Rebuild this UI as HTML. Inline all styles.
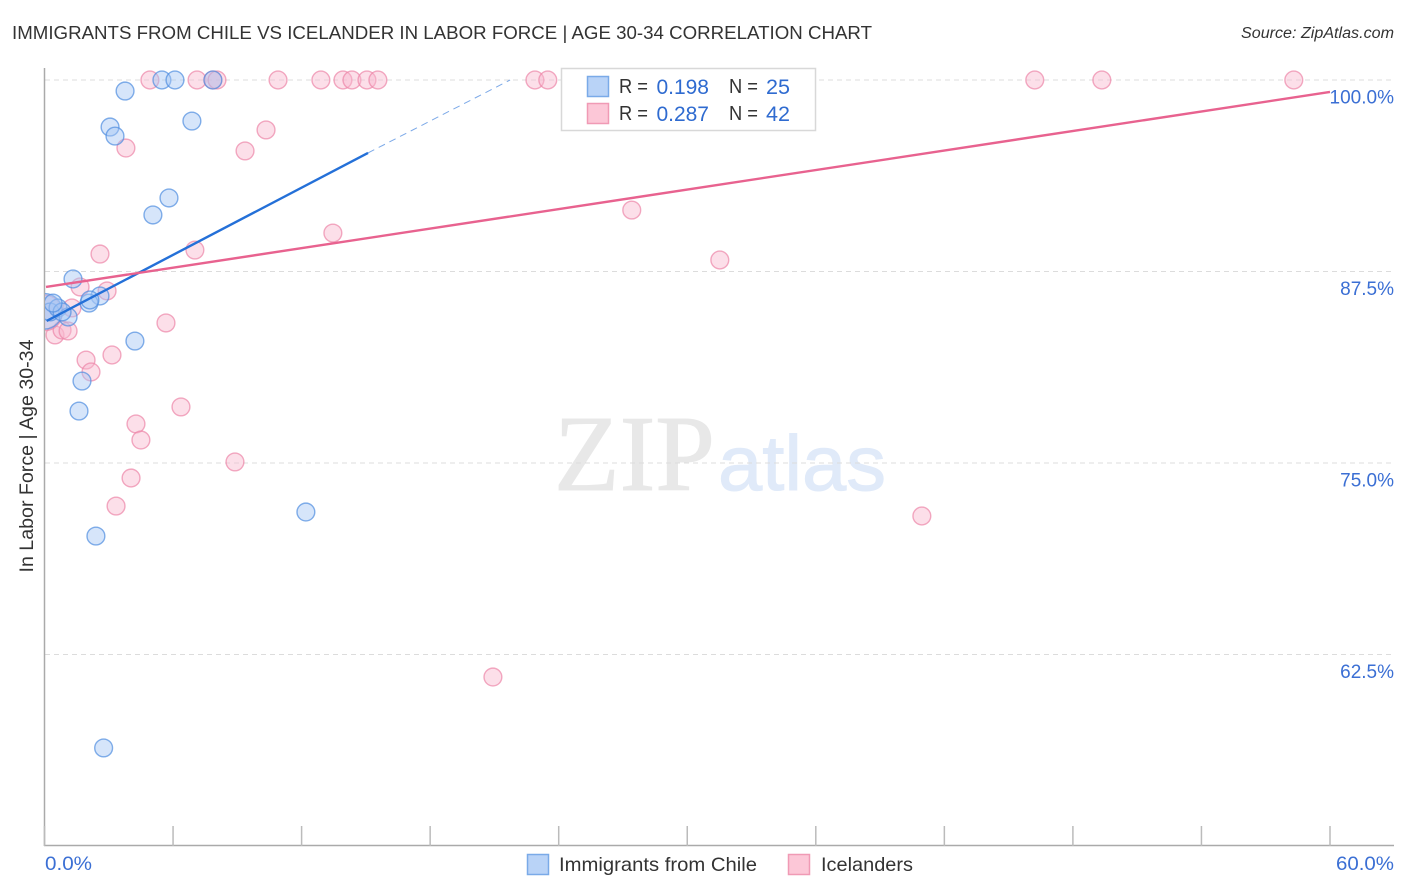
<!DOCTYPE html>
<html lang="en">
<head>
<meta charset="utf-8">
<title>Immigrants from Chile vs Icelander in Labor Force | Age 30-34 Correlation Chart</title>
<style>
html,body{margin:0;padding:0;background:#fff;}
svg{display:block;font-family:"Liberation Sans",sans-serif;}
.tick-label{fill:#3b6fd4;font-size:19px;}
.legend-label{fill:#333;font-size:20px;}
.legend-value{fill:#2f6bd0;font-size:21px;}
</style>
</head>
<body>
<svg id="chart" width="1406" height="892" viewBox="0 0 1406 892" xmlns="http://www.w3.org/2000/svg">
  <defs>
    <clipPath id="plot-clip"><rect x="45" y="60" width="1349" height="786"/></clipPath>
  </defs>
  <rect x="0" y="0" width="1406" height="892" fill="#fff"/>
  <text x="12" y="39" font-size="18.5" fill="#333" textLength="860" lengthAdjust="spacingAndGlyphs">IMMIGRANTS FROM CHILE VS ICELANDER IN LABOR FORCE | AGE 30-34 CORRELATION CHART</text>
  <text x="1394" y="38" font-size="15.5" font-style="italic" fill="#333" text-anchor="end" textLength="153" lengthAdjust="spacingAndGlyphs">Source: ZipAtlas.com</text>

  <g>
    <text x="554" y="490" font-family="'Liberation Serif',serif" font-size="108" fill="#e8e8e8" stroke="#e8e8e8" stroke-width="1" textLength="161" lengthAdjust="spacingAndGlyphs">ZIP</text>
    <text x="718" y="490" font-family="'Liberation Sans',sans-serif" font-size="78" fill="#e0eaf9" stroke="#e0eaf9" stroke-width="1" textLength="168" lengthAdjust="spacingAndGlyphs">atlas</text>
  </g>

  <g id="grid"></g>
  <g id="axes"></g>
  <g id="points" clip-path="url(#plot-clip)"></g>
  <g id="trends"></g>

  <text transform="translate(33,456) rotate(-90)" font-size="19" fill="#333" text-anchor="middle" textLength="233" lengthAdjust="spacingAndGlyphs">In Labor Force | Age 30-34</text>

  <g>
    <rect x="561.5" y="68.5" width="254" height="62" fill="#fff" stroke="#d8d8d8" stroke-width="1.5"/>
    <rect x="587.5" y="76.5" width="21" height="20" fill="#b9d3f7" stroke="#7aaae8" stroke-width="1.5"/>
    <text class="legend-label" x="619" y="93" textLength="29" lengthAdjust="spacingAndGlyphs">R =</text>
    <text class="legend-value" x="709" y="94" text-anchor="end">0.198</text>
    <text class="legend-label" x="729" y="93" textLength="29" lengthAdjust="spacingAndGlyphs">N =</text>
    <text class="legend-value" x="766" y="94" textLength="24" lengthAdjust="spacingAndGlyphs">25</text>
    <rect x="587.5" y="103.5" width="21" height="20" fill="#fcc7d7" stroke="#f09ab5" stroke-width="1.5"/>
    <text class="legend-label" x="619" y="120" textLength="29" lengthAdjust="spacingAndGlyphs">R =</text>
    <text class="legend-value" x="709" y="121" text-anchor="end">0.287</text>
    <text class="legend-label" x="729" y="120" textLength="29" lengthAdjust="spacingAndGlyphs">N =</text>
    <text class="legend-value" x="766" y="121" textLength="24" lengthAdjust="spacingAndGlyphs">42</text>
  </g>

  <g>
    <rect x="527.5" y="854.5" width="21" height="20" fill="#b9d3f7" stroke="#7aaae8" stroke-width="1.5"/>
    <text x="559" y="871" font-size="19.5" fill="#333" textLength="198" lengthAdjust="spacingAndGlyphs">Immigrants from Chile</text>
    <rect x="788.5" y="854.5" width="21" height="20" fill="#fcc7d7" stroke="#f09ab5" stroke-width="1.5"/>
    <text x="821" y="871" font-size="19.5" fill="#333" textLength="92" lengthAdjust="spacingAndGlyphs">Icelanders</text>
  </g>
</svg>
<script>
const yTickValues = [100, 87.5, 75, 62.5];
const yTickLabels = ["100.0%", "87.5%", "75.0%", "62.5%"];
const xTickValues = [0, 6, 12, 18, 24, 30, 36, 42, 48, 54, 60];
const xEndLabels = ["0.0%", "60.0%"];

const chileX = [3.76, 5.48, 6.09, 7.86, 3.06, 3.29, 6.88, 5.81, 5.06, 1.33, 2.59, 2.08, 4.22, 1.75, 1.61, 2.40, 2.76, 12.2, 0.0, 0.26, 0.63, 1.10, 0.82, 0.40, 2.12];
const chileY = [99.28, 100, 100, 100, 96.93, 96.34, 97.32, 92.30, 91.19, 87.01, 85.90, 85.44, 82.96, 80.35, 78.39, 70.23, 56.40, 71.80, 84.90, 84.86, 85.12, 84.53, 84.86, 85.44, 85.64];
const chileWeight = [1, 1, 1, 1, 1, 1, 1, 1, 1, 1, 1, 1, 1, 1, 1, 1, 1, 1, 2, 1, 1, 1, 1, 1, 1];

const icelandX = [4.92, 7.12, 7.86, 8.05, 10.9, 12.9, 13.93, 14.35, 15.05, 15.56, 22.89, 23.49, 46.22, 49.35, 58.31, 10.34, 3.80, 9.36, 27.41, 13.46, 2.59, 7.02, 31.52, 1.66, 2.92, 5.67, 0.49, 0.82, 1.10, 1.94, 3.15, 2.17, 6.37, 4.27, 4.50, 8.89, 4.04, 3.34, 40.95, 20.93, 0.0, 1.28];
const icelandY = [100, 100, 100, 100, 100, 100, 100, 100, 100, 100, 100, 100, 100, 100, 100, 96.74, 95.56, 95.37, 91.51, 90.01, 88.64, 88.90, 88.25, 86.49, 86.23, 84.14, 83.36, 83.68, 83.62, 81.72, 82.05, 80.94, 78.66, 77.55, 76.50, 75.07, 74.02, 72.19, 71.54, 61.03, 84.80, 85.12];
const icelandWeight = [1, 1, 1, 1, 1, 1, 1, 1, 1, 1, 1, 1, 1, 1, 1, 1, 1, 1, 1, 1, 1, 1, 1, 1, 1, 1, 1, 1, 1, 1, 1, 1, 1, 1, 1, 1, 1, 1, 1, 1, 2, 1];

const chileTrendX = [0.1, 15.1];
const chileTrendY = [84.27, 95.24];
const chileTrendExtX = [15.1, 21.73];
const chileTrendExtY = [95.24, 100];
const icelandTrendX = [0.07, 60];
const icelandTrendY = [86.49, 99.22];

const NS = "http://www.w3.org/2000/svg";
function sx(v) { return 44.5 + v * (1330 - 44.5) / 60; }
function sy(v) { return 80 + (100 - v) * (654.5 - 80) / 37.5; }
function make(tag, attrs, parent) {
  const el = document.createElementNS(NS, tag);
  for (const k in attrs) el.setAttribute(k, attrs[k]);
  parent.appendChild(el);
  return el;
}
const grid = document.getElementById("grid");
const axes = document.getElementById("axes");
const points = document.getElementById("points");
const trends = document.getElementById("trends");

yTickValues.forEach(function (v, i) {
  const line = make("line", { x1: 45, x2: 1394, y1: sy(v), y2: sy(v), stroke: "#dcdcdc", "stroke-width": 1, "stroke-dasharray": "5 4" }, grid);
  
  
  const label = make("text", { x: 1394, y: sy(v) + 23.5, "text-anchor": "end", class: "tick-label" }, axes);
  label.textContent = yTickLabels[i];
  
  
});

const yAxis = make("line", { x1: 44.5, x2: 44.5, y1: 68, y2: 846, stroke: "#aaa", "stroke-width": 1.5 }, axes);


const xAxis = make("line", { x1: 44, x2: 1394, y1: 845.5, y2: 845.5, stroke: "#aaa", "stroke-width": 1.5 }, axes);



xTickValues.forEach(function (v) {
  const t = make("line", { x1: sx(v), x2: sx(v), y1: 826, y2: 846, stroke: "#bbb", "stroke-width": 1.5 }, axes);
  
  
});

const xStart = make("text", { x: 45, y: 870, class: "tick-label", textLength: 47, lengthAdjust: "spacingAndGlyphs" }, axes);
xStart.textContent = xEndLabels[0];


const xEnd = make("text", { x: 1394, y: 870, "text-anchor": "end", class: "tick-label", textLength: 58, lengthAdjust: "spacingAndGlyphs" }, axes);
xEnd.textContent = xEndLabels[1];



function drawSeries(xs, ys, weights, fill, stroke, name) {
  xs.forEach(function (x, i) {
    const c = make("circle", { cx: sx(x), cy: sy(ys[i]), r: 8.9 * weights[i], fill: fill, "fill-opacity": 0.45, stroke: stroke, "stroke-opacity": 0.7, "stroke-width": 1.4 }, points);
    
    
  });
}
drawSeries(icelandX, icelandY, icelandWeight, "#f9b8ce", "#ec86a8", "point-icelanders");
drawSeries(chileX, chileY, chileWeight, "#a3c6f3", "#4f8de0", "point-chile");

const chileLine = make("line", { x1: sx(chileTrendX[0]), y1: sy(chileTrendY[0]), x2: sx(chileTrendX[1]), y2: sy(chileTrendY[1]), stroke: "#2470d8", "stroke-width": 2.4 }, trends);


const chileExt = make("line", { x1: sx(chileTrendExtX[0]), y1: sy(chileTrendExtY[0]), x2: sx(chileTrendExtX[1]), y2: sy(chileTrendExtY[1]), stroke: "#2470d8", "stroke-width": 1, "stroke-opacity": 0.6, "stroke-dasharray": "7 5" }, trends);


const iceLine = make("line", { x1: sx(icelandTrendX[0]), y1: sy(icelandTrendY[0]), x2: sx(icelandTrendX[1]), y2: sy(icelandTrendY[1]), stroke: "#e8628f", "stroke-width": 2.4 }, trends);


</script>
</body>
</html>
